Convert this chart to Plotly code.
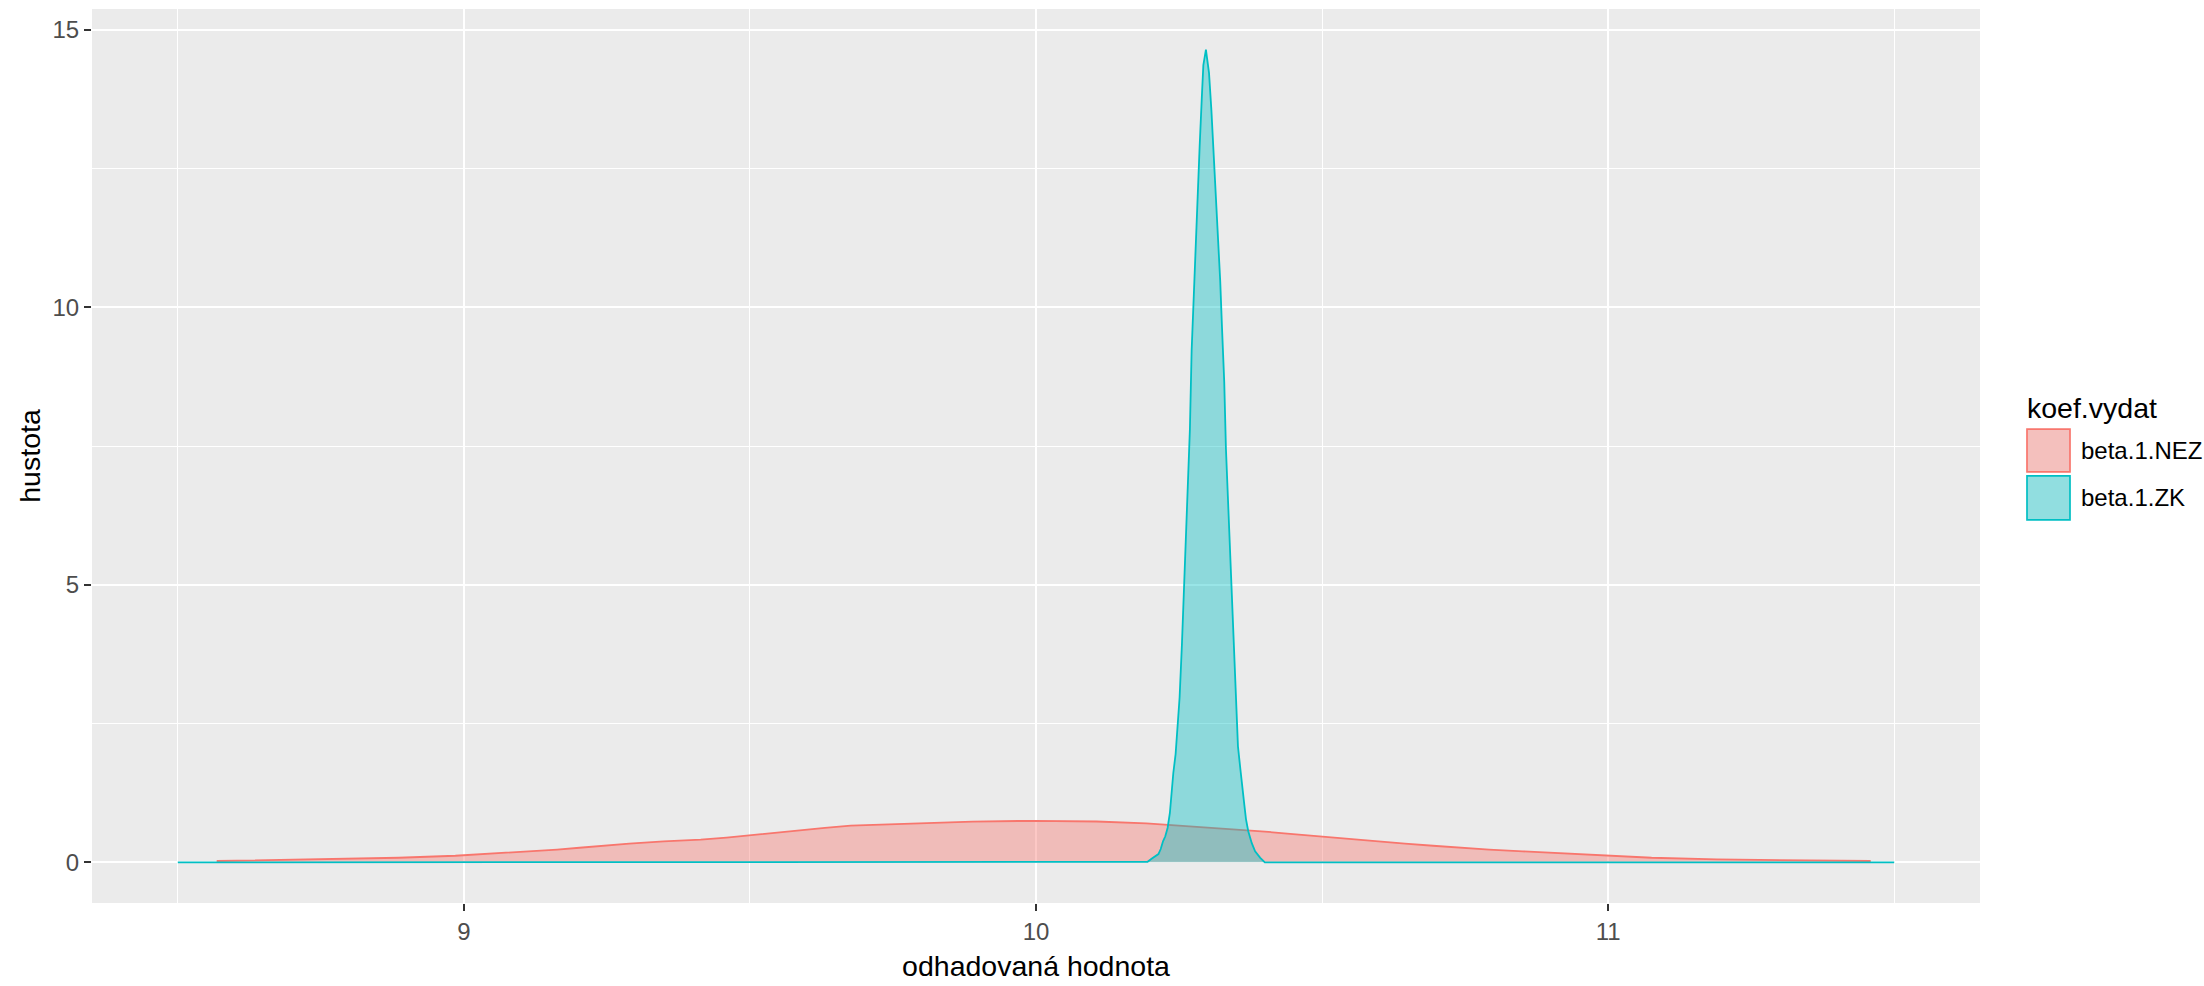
import plotly.graph_objects as go

# Kernel density estimates of the two coefficient estimates
x_nez = [8.568, 8.757, 8.886, 8.985, 9.053, 9.115, 9.163, 9.202, 9.243, 9.289,
         9.349, 9.414, 9.459, 9.497, 9.531, 9.561, 9.590, 9.631, 9.676, 9.783,
         9.889, 9.997, 10.106, 10.193, 10.251, 10.301, 10.368, 10.394, 10.439,
         10.482, 10.522, 10.558, 10.599, 10.645, 10.694, 10.740, 10.792, 10.851,
         10.920, 10.993, 11.076, 11.190, 11.459]
d_nez = [0.025, 0.053, 0.083, 0.119, 0.159, 0.198, 0.231, 0.263, 0.299, 0.339,
         0.378, 0.410, 0.446, 0.485, 0.522, 0.558, 0.590, 0.623, 0.662, 0.705,
         0.735, 0.749, 0.736, 0.702, 0.665, 0.628, 0.585, 0.560, 0.519, 0.479,
         0.443, 0.408, 0.372, 0.336, 0.299, 0.263, 0.231, 0.198, 0.159, 0.119,
         0.083, 0.053, 0.025]

x_zk = [8.5, 10.19, 10.195, 10.202, 10.208, 10.214, 10.218, 10.222, 10.226,
        10.230, 10.234, 10.237, 10.240, 10.244, 10.247, 10.251, 10.255, 10.258,
        10.262, 10.265, 10.269, 10.272, 10.276, 10.279, 10.283, 10.286, 10.290,
        10.2925, 10.297, 10.3024, 10.3065, 10.310, 10.314, 10.318, 10.322,
        10.325, 10.329, 10.332, 10.336, 10.339, 10.343, 10.346, 10.350, 10.353,
        10.357, 10.360, 10.364, 10.367, 10.371, 10.377, 10.383, 10.392, 10.400,
        11.5]
d_zk = [0.0, 0.0, 0.01, 0.065, 0.11, 0.15, 0.24, 0.38, 0.47,
        0.62, 0.89, 1.28, 1.61, 1.95, 2.35, 2.97, 3.91, 4.81,
        5.65, 6.59, 7.80, 9.21, 10.32, 11.17, 11.98, 12.89, 13.82,
        14.36, 14.64, 14.22, 13.56, 12.87, 12.15, 11.33, 10.47,
        9.66, 8.66, 7.45, 6.39, 5.49, 4.64, 3.71, 2.74, 2.09,
        1.70, 1.38, 1.05, 0.78, 0.56, 0.35, 0.20, 0.08, 0.0,
        0.0]

group_names = ["beta.1.NEZ", "beta.1.ZK"]
group_colors = ["#F8766D", "#00BFC4"]
key_fills = ["#F4C0BD", "#91DEE0"]

x_ticks = [9, 10, 11]
x_minor = [8.5, 9.5, 10.5, 11.5]
y_ticks = [0, 5, 10, 15]
y_minor = [2.5, 7.5, 12.5]

legend_title = "koef.vydat"
x_title = "odhadovaná hodnota"
y_title = "hustota"

W, H = 2204, 986
ML, MR, MT, MB = 92, 224, 9, 81
FONT = "Liberation Sans, Arial, sans-serif"


def rgba(hex_color, a):
    h = hex_color.lstrip("#")
    r, g, b = int(h[0:2], 16), int(h[2:4], 16), int(h[4:6], 16)
    return f"rgba({r},{g},{b},{a})"


def paper_x(px):
    return (px - ML) / (W - ML - MR)


def paper_y(py):
    return (H - MB - py) / (H - MT - MB)


fig = go.Figure()
for xs, ds, name, col in [(x_nez, d_nez, group_names[0], group_colors[0]),
                          (x_zk, d_zk, group_names[1], group_colors[1])]:
    fig.add_trace(go.Scatter(
        x=xs, y=ds, name=name, mode="lines", fill="tozeroy",
        fillcolor=rgba(col, 0.4), line=dict(color=col, width=1.8),
        showlegend=False, hoverinfo="x+y+name"))

# ggplot-style 5% expansion of the data ranges
all_x = x_nez + x_zk
x_lo, x_hi = min(all_x), max(all_x)
x_pad = 0.05 * (x_hi - x_lo)
y_hi = max(max(d_nez), max(d_zk))
y_pad = 0.05 * y_hi

fig.update_xaxes(
    range=[x_lo - x_pad, x_hi + x_pad], tickvals=x_ticks,
    ticktext=[str(v) for v in x_ticks], showgrid=True, gridcolor="white",
    gridwidth=2, zeroline=False, showline=False, ticks="outside", ticklen=7,
    tickwidth=1.5, tickcolor="#333333",
    tickfont=dict(family=FONT, size=24, color="#4D4D4D"),
    minor=dict(tickvals=x_minor, showgrid=True, gridcolor="white",
               gridwidth=1, ticklen=0),
    title=dict(text=x_title, font=dict(family=FONT, size=28.5, color="black"),
               standoff=12))
fig.update_yaxes(
    range=[-y_pad, y_hi + y_pad], tickvals=y_ticks,
    ticktext=[str(v) for v in y_ticks], showgrid=True, gridcolor="white",
    gridwidth=2, zeroline=False, showline=False, ticks="outside", ticklen=7,
    tickwidth=1.5, tickcolor="#333333",
    tickfont=dict(family=FONT, size=24, color="#4D4D4D"),
    minor=dict(tickvals=y_minor, showgrid=True, gridcolor="white",
               gridwidth=1, ticklen=0),
    title=dict(text=y_title, font=dict(family=FONT, size=28.5, color="black"),
               standoff=3))

# Legend drawn as keys + labels to the right of the panel
shapes = []
annotations = [dict(
    x=paper_x(2025), y=paper_y(409), xref="paper", yref="paper",
    text=legend_title, showarrow=False, xanchor="left", yanchor="middle",
    font=dict(family=FONT, size=28.5, color="black"))]
key_rows = [(430, 473), (477, 521)]
for (top, bot), name, col, kf in zip(key_rows, group_names, group_colors, key_fills):
    shapes.append(dict(
        type="rect", xref="paper", yref="paper", x0=paper_x(2027),
        x1=paper_x(2070), y0=paper_y(bot), y1=paper_y(top),
        fillcolor=kf, line=dict(color=col, width=1.7), layer="above"))
    annotations.append(dict(
        x=paper_x(2079), y=paper_y((top + bot) / 2), xref="paper",
        yref="paper", text=name, showarrow=False, xanchor="left",
        yanchor="middle", font=dict(family=FONT, size=24, color="black")))

fig.update_layout(
    width=W, height=H, margin=dict(l=ML, r=MR, t=MT, b=MB),
    paper_bgcolor="white", plot_bgcolor="#EBEBEB",
    font=dict(family=FONT), shapes=shapes, annotations=annotations,
    showlegend=False)

fig.write_html("out.html")
